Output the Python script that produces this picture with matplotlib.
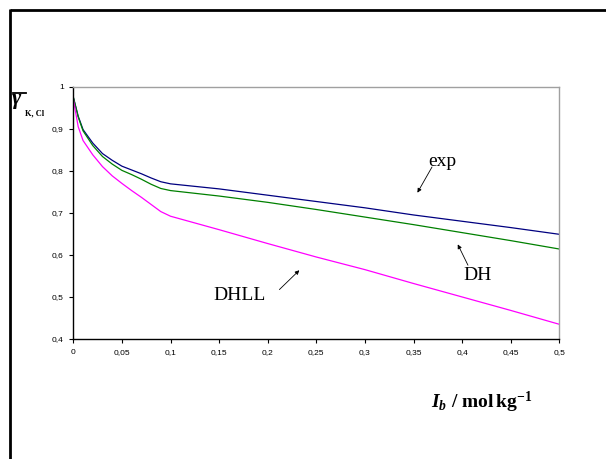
import matplotlib.pyplot as plt
from matplotlib.lines import Line2D
from matplotlib.ticker import FuncFormatter

# ionic strength grid
ionic = [0.0, 0.005, 0.01, 0.02, 0.03, 0.04, 0.05, 0.06, 0.07, 0.08, 0.09, 0.1,
         0.15, 0.2, 0.25, 0.3, 0.35, 0.4, 0.45, 0.5]

gamma_exp = [0.975, 0.930, 0.898, 0.866, 0.841, 0.825, 0.811, 0.802, 0.793,
             0.783, 0.774, 0.769,
             0.757, 0.742, 0.727, 0.712, 0.695, 0.680, 0.665, 0.649]
gamma_dh = [0.975, 0.928, 0.895, 0.860, 0.834, 0.816, 0.801, 0.791, 0.780,
            0.768, 0.758, 0.753,
            0.740, 0.725, 0.708, 0.690, 0.672, 0.653, 0.634, 0.614]
gamma_dhll = [0.970, 0.905, 0.872, 0.838, 0.810, 0.788, 0.770, 0.753, 0.737,
              0.720, 0.703, 0.692,
              0.660, 0.627, 0.595, 0.565, 0.532, 0.500, 0.468, 0.435]

x_ticks = [0, 0.05, 0.1, 0.15, 0.2, 0.25, 0.3, 0.35, 0.4, 0.45, 0.5]
y_ticks = [0.4, 0.5, 0.6, 0.7, 0.8, 0.9, 1.0]

plt.rcParams['mathtext.fontset'] = 'custom'
plt.rcParams['mathtext.rm'] = 'Liberation Serif:bold'
plt.rcParams['mathtext.it'] = 'Liberation Serif:bold:italic'
plt.rcParams['mathtext.bf'] = 'Liberation Serif:bold'

fig = plt.figure(figsize=(6.06, 4.59), dpi=100)
ax = fig.add_axes([0.121, 0.2614, 0.802, 0.5497])

ax.plot(ionic, gamma_exp, color='#000080', lw=0.9)
ax.plot(ionic, gamma_dh, color='#008000', lw=0.9)
ax.plot(ionic, gamma_dhll, color='#FF00FF', lw=0.9)

ax.set_xlim(0, 0.5)
ax.set_ylim(0.4, 1.0)
ax.set_xticks(x_ticks)
ax.set_yticks(y_ticks)


def comma_fmt(v, pos):
    s = f"{v:.2f}".rstrip('0').rstrip('.')
    return s.replace('.', ',')


ax.xaxis.set_major_formatter(FuncFormatter(comma_fmt))
ax.yaxis.set_major_formatter(FuncFormatter(comma_fmt))
ax.tick_params(direction='out', length=3, width=0.8, labelsize=6, pad=4)
for lbl in ax.get_xticklabels() + ax.get_yticklabels():
    lbl.set_family('Liberation Sans')

ax.spines['left'].set_color('black')
ax.spines['bottom'].set_color('black')
ax.spines['left'].set_linewidth(1.0)
ax.spines['bottom'].set_linewidth(1.0)
ax.spines['top'].set_color('#a0a0a0')
ax.spines['right'].set_color('#a0a0a0')
ax.spines['top'].set_linewidth(1.0)
ax.spines['right'].set_linewidth(1.0)

# annotations
arrow = dict(arrowstyle='-|>', lw=0.6, color='black', mutation_scale=6,
             shrinkA=0, shrinkB=0)
txt = dict(family='Liberation Serif', fontsize=14, ha='center', va='center')
ax.text(0.38, 0.822, 'exp', **txt)
ax.annotate('', xy=(0.354, 0.748), xytext=(0.369, 0.809), arrowprops=arrow)
ax.text(0.416, 0.552, 'DH', **txt)
ax.annotate('', xy=(0.3955, 0.625), xytext=(0.406, 0.5755), arrowprops=arrow)
ax.text(0.1715, 0.504, 'DHLL', **txt)
ax.annotate('', xy=(0.2325, 0.5635), xytext=(0.212, 0.5176), arrowprops=arrow)

# axis labels
fig.text(482 / 606, 1 - 402 / 459, r'$I_b\ /\ \mathrm{mol\,kg}^{-1}$',
         fontsize=14, ha='center', va='center')
fig.text(12 / 606, 1 - 104 / 459, '\u03b3', family='Liberation Serif',
         fontsize=16, style='italic', weight='bold', ha='left', va='baseline')
fig.add_artist(Line2D([13 / 606, 26 / 606], [1 - 93 / 459, 1 - 93 / 459],
                      transform=fig.transFigure, color='black', lw=1.3))
fig.text(25 / 606, 1 - 115 / 459, 'K, Cl', family='Liberation Serif',
         fontsize=6, weight='bold', ha='left', va='baseline')

# outer frame (top and left only)
fig.add_artist(Line2D([10 / 606, 1.0], [1 - 10 / 459, 1 - 10 / 459],
                      transform=fig.transFigure, color='black', lw=2,
                      solid_capstyle='butt'))
fig.add_artist(Line2D([10 / 606, 10 / 606], [0.0, 1 - 9 / 459],
                      transform=fig.transFigure, color='black', lw=2,
                      solid_capstyle='butt'))

fig.savefig('out.png', dpi=100)
